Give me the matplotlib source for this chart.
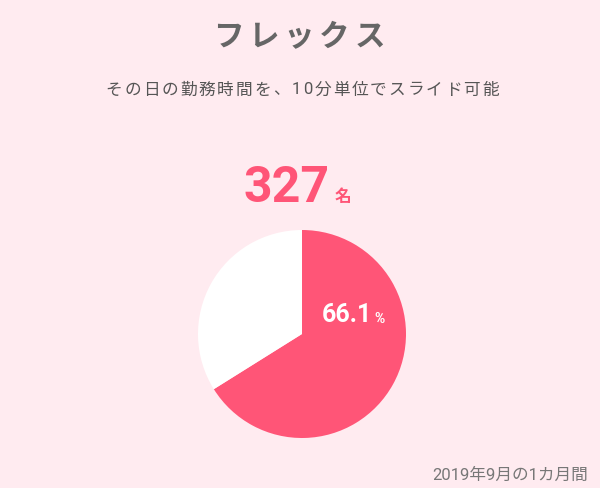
import matplotlib
matplotlib.use("Agg")
import matplotlib.pyplot as plt

# data
title = "フレックス"
subtitle = "その日の勤務時間を、10分単位でスライド可能"
count = 327
count_unit = "名"
shares = [66.1, 33.9]
footnote = "2019年9月の1カ月間"

BG = "#ffebf0"
PINK = "#ff5577"
GRAY = "#666666"
JP = ["Noto Sans CJK JP", "DejaVu Sans"]
NUM = ["Roboto", "Noto Sans CJK JP"]

W, H = 600, 488
fig = plt.figure(figsize=(6, 4.88), dpi=100, facecolor=BG)
renderer = fig.canvas.get_renderer()


def spaced_text(s, xc, y, gap, **kw):
    # draw a string one character at a time with extra letter spacing (pixels)
    widths = []
    for ch in s:
        t = fig.text(0, 0, ch, **kw)
        widths.append(t.get_window_extent(renderer).width)
        t.remove()
    total = sum(widths) + gap * (len(s) - 1)
    x = xc - total / 2
    for ch, w in zip(s, widths):
        fig.text(x / W, 1 - y / H, ch, ha="left", va="center", **kw)
        x += w + gap


spaced_text(title, 299, 37, 5, fontsize=22, fontweight="bold", color=GRAY, family=JP)
spaced_text(subtitle, 302, 90, 2.0, fontsize=12, color="#555555", family=NUM)

fig.text(330 / W, 1 - 188 / H, str(count), ha="right", va="center",
         fontsize=36, fontweight="bold", color=PINK, family=NUM)
fig.text(335 / W, 1 - 197 / H, count_unit, ha="left", va="center",
         fontsize=12, fontweight="bold", color=PINK, family=JP)

# pie, centre (302, 334) px, radius 104 px
ax = fig.add_axes([(302 - 104) / W, (H - 438) / H, 208 / W, 208 / H])
ax.pie(shares, colors=[PINK, "white"], startangle=90, counterclock=False,
       radius=1.0, wedgeprops=dict(linewidth=0))
ax.set_xlim(-1, 1)
ax.set_ylim(-1, 1)
ax.set_aspect("equal")
ax.axis("off")

fig.text(372 / W, 1 - 315 / H, f"{shares[0]:.1f}", ha="right", va="center",
         fontsize=18, fontweight="bold", color="white", family=NUM)
fig.text(374 / W, 1 - 319 / H, "%", ha="left", va="center",
         fontsize=10, fontweight="bold", color="white", family=NUM)

fig.text(588 / W, 1 - 475 / H, footnote, ha="right", va="center",
         fontsize=12, color="#777777", family=NUM)

fig.savefig("out.png", dpi=100, facecolor=BG)
